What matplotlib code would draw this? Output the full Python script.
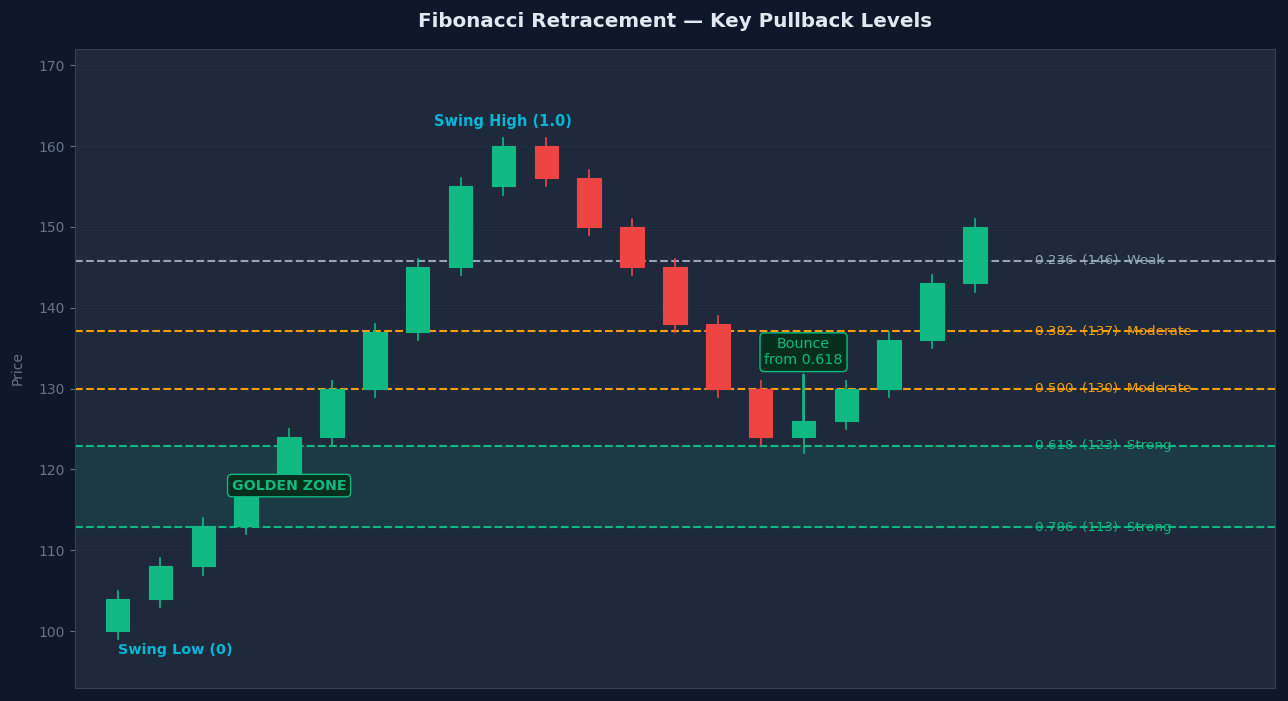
import matplotlib.pyplot as plt
from matplotlib.patches import Rectangle

# OHLC
opens  = [100, 104, 108, 113, 118, 124, 130, 137, 145, 155, 160, 156, 150, 145, 138, 130, 124, 126, 130, 136, 143]
closes = [104, 108, 113, 118, 124, 130, 137, 145, 155, 160, 156, 150, 145, 138, 130, 124, 126, 130, 136, 143, 150]
highs  = [105, 109, 114, 119, 125, 131, 138, 146, 156, 161, 161, 157, 151, 146, 139, 131, 127, 131, 137, 144, 151]
lows   = [99, 103, 107, 112, 117, 123, 129, 136, 144, 154, 155, 149, 144, 137, 129, 123, 122, 125, 129, 135, 142]

swing_low = 100
swing_high = 160
ratios = [0.236, 0.382, 0.500, 0.618, 0.786]
strengths = ['Weak', 'Moderate', 'Moderate', 'Strong', 'Strong']

BG = '#0f172a'
PANEL = '#1e293b'
GREEN = '#10b981'
RED = '#ef4444'
level_colors = ['#94a3b8', '#f59e0b', '#f59e0b', GREEN, GREEN]

fig, ax = plt.subplots(figsize=(12.88, 7.01), dpi=100)
fig.patch.set_facecolor(BG)
ax.set_facecolor(PANEL)
fig.subplots_adjust(left=0.058, right=0.99, top=0.930, bottom=0.019)

width = 0.55
for i, (o, c, h, l) in enumerate(zip(opens, closes, highs, lows)):
    col = GREEN if c >= o else RED
    ax.plot([i, i], [l, h], color=col, linewidth=1.2, zorder=3)
    ax.add_patch(Rectangle((i - width / 2, min(o, c)), width, abs(c - o),
                           facecolor=col, edgecolor=col, linewidth=0.8, zorder=4))

diff = swing_high - swing_low
levels = [swing_high - r * diff for r in ratios]
for r, lvl, s, col in zip(ratios, levels, strengths, level_colors):
    ax.axhline(lvl, color=col, linestyle='--', linewidth=1.5, zorder=2)
    ax.text(21.4, lvl, f'{r:.3f}  ({lvl:.0f})  {s}', color=col, fontsize=9.7,
            va='center', ha='left', zorder=2)

# golden zone between 0.618 and 0.786
ax.axhspan(levels[4], levels[3], color=GREEN, alpha=0.12, zorder=1)
ax.text(4, 118, 'GOLDEN ZONE', color=GREEN, fontsize=10.2, fontweight='bold',
        ha='center', va='center', zorder=6,
        bbox=dict(boxstyle='round,pad=0.3', facecolor='#052e1c', edgecolor=GREEN, linewidth=1))

ax.text(0, 97.6, 'Swing Low (0)', color='#06b6d4', fontsize=10.4, fontweight='bold',
        ha='left', va='center')
ax.text(9, 163.1, 'Swing High (1.0)', color='#06b6d4', fontsize=10.5, fontweight='bold',
        ha='center', va='center')

ax.annotate('Bounce\nfrom 0.618', xy=(16, 124.3), xytext=(16, 134.5),
            color=GREEN, fontsize=10.3, ha='center', va='center', zorder=3.5,
            bbox=dict(boxstyle='round,pad=0.3', facecolor='#052e1c', edgecolor=GREEN, linewidth=1),
            arrowprops=dict(arrowstyle='->', color=GREEN, lw=2))

ax.set_xlim(-1, 27)
ax.set_ylim(93, 172)
ax.set_xticks([])
ax.set_ylabel('Price', color='#64748b', fontsize=10, labelpad=10)
ax.tick_params(axis='y', colors='#64748b', labelsize=10)
ax.grid(axis='y', color='#334155', alpha=0.2, linewidth=0.8)
for sp in ax.spines.values():
    sp.set_color('#334155')

ax.set_title('Fibonacci Retracement — Key Pullback Levels', color='#e2e8f0',
             fontsize=14.3, fontweight='bold', pad=16)

plt.savefig('out.png', dpi=100, facecolor=fig.get_facecolor())
